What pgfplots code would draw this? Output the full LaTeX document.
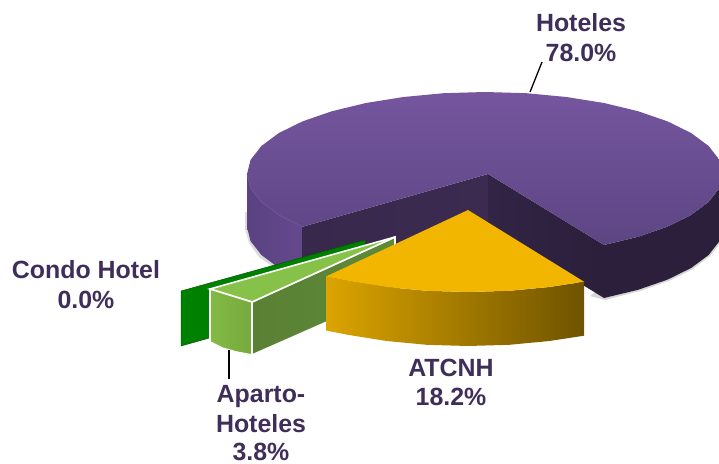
\documentclass[border=0pt]{standalone}
\usepackage{fontspec}
\setmainfont{Liberation Sans}
\usepackage{pgfplots}
\pgfplotsset{compat=1.18}
\definecolor{labelc}{HTML}{3F2D5A}
\definecolor{HotelWallA}{HTML}{5A4281}
\definecolor{HotelWallB}{HTML}{644A8D}
\definecolor{HotelCutA}{HTML}{37284C}
\definecolor{HotelCutB}{HTML}{3B2B50}
\definecolor{HotelCutC}{HTML}{322445}
\definecolor{HotelCutD}{HTML}{2B1F3B}
\definecolor{HotelTopA}{HTML}{75569F}
\definecolor{HotelTopB}{HTML}{5D4583}
\definecolor{HotelRim}{HTML}{6F549B}
\definecolor{CondoFill}{HTML}{008000}
\definecolor{ApartoWallA}{HTML}{5A8034}
\definecolor{ApartoWallB}{HTML}{5E8A38}
\definecolor{ApartoTop}{HTML}{86C24A}
\definecolor{ApartoFrontA}{HTML}{83BA45}
\definecolor{ApartoFrontB}{HTML}{76A93D}
\definecolor{AtcWallA}{HTML}{DCA400}
\definecolor{AtcWallB}{HTML}{AB7E00}
\definecolor{AtcWallC}{HTML}{6E5300}
\definecolor{AtcTop}{HTML}{F3B600}
\newcommand{\lab}[3]{\node[anchor=base,inner sep=0pt,text=labelc,font=\fontsize{25}{29}\selectfont\bfseries] at (axis cs:#1,#2) {#3};}
\begin{document}
\begin{tikzpicture}
\begin{axis}[
scale only axis,
width=719bp,
height=464bp,
xmin=0, xmax=719,
ymin=0, ymax=464,
y dir=reverse,
hide axis,
]
% hide axis leaves the box out of the page size
\path (axis cs:0,0) rectangle (axis cs:719,464);
% soft shadow below the pie
\addplot[draw=none,fill=black!14] coordinates {(245,212) (245,229) (249,243) (259,257) (277,270) (301,282) (320,284) (320,270) (260,215)} --cycle;
\addplot[draw=none,fill=black!16] coordinates {(590,296) (605,300) (640,291) (669,281) (693,269) (710,256) (721,242) (725,229) (719,200)} --cycle;

% Hoteles walls
\addplot[draw=none,left color=HotelWallA,right color=HotelWallB] coordinates {(247,174) (250.6,188.2) (261.4,202) (278.9,215) (302.7,226.7) (304,280) (278.9,268) (261.4,255) (250.6,241.2) (247,227)} --cycle;
\addplot[draw=none,left color=HotelCutA,right color=HotelCutB] coordinates {(302.7,226.7) (488,174) (488,227) (302.7,279.7)} --cycle;
\addplot[draw=none,left color=HotelCutC,right color=HotelCutD] coordinates {(488,174) (604,245) (604,298) (488,227)} --cycle;
\addplot[draw=none,fill=HotelCutD] coordinates {(604,245) (638,236.8) (667.3,226.7) (691.1,215) (708.6,202) (719.4,188.2) (723,174) (723,227) (719.4,241.2) (708.6,255) (691.1,268) (667.3,279.7) (638,289.8) (604,298)} --cycle;
% Hoteles top
\addplot[draw=none,top color=HotelTopA,bottom color=HotelTopB] coordinates {
(604,245) (638,236.8) (667.3,226.7) (691.1,215) (708.6,202) (719.4,188.2) (723,174)
(719.4,159.8) (708.6,146) (691.1,133) (667.3,121.3) (638,111.2) (604,103) (566.4,97) (526.3,93.2) (485,92)
(443.7,93.2) (403.6,97) (366,103) (332,111.2) (302.7,121.3) (278.9,133) (261.4,146) (250.6,159.8) (247,174)
(250.6,188.2) (261.4,202) (278.9,215) (302.7,226.7) (488,174)} --cycle;
\addplot[HotelRim,line width=0.7pt] coordinates {(247,174) (250.6,188.2) (261.4,202) (278.9,215) (302.7,226.7)};

% Condo Hotel
\addplot[draw=green!35!black,line width=0.5pt,fill=CondoFill] coordinates {(181,291) (365,240) (365,294) (181,346)} --cycle;

% Aparto-Hoteles
\addplot[draw=white,line width=1.6pt,left color=ApartoWallA,right color=ApartoWallB] coordinates {(252,302) (395,237) (395,292) (252,355)} --cycle;
\addplot[draw=white,line width=1.6pt,fill=ApartoTop] coordinates {(210,289) (395,237) (252,302)} --cycle;
\addplot[draw=white,line width=1.6pt,left color=ApartoFrontA,right color=ApartoFrontB] coordinates {(210,289) (252,302) (252,355) (236,352) (222,348) (210,342)} --cycle;

% ATCNH
\addplot[draw=none,left color=AtcWallA,middle color=AtcWallB,right color=AtcWallC] coordinates {
(326,276.5) (349,281) (386.6,287) (426.7,290.8) (468,292) (509.3,290.8) (549.4,287) (584,281.7)
(584,335.7) (549.4,341) (509.3,344.8) (468,346) (426.7,344.8) (386.6,341) (349,335) (326,330.5)} --cycle;
\addplot[draw=none,fill=AtcTop] coordinates {(468,210) (584,281.7) (549.4,287) (509.3,290.8) (468,292) (426.7,290.8) (386.6,287) (349,281) (326,276.5)} --cycle;

% leader lines
\addplot[black,line width=1.3pt] coordinates {(542,62) (530,92)};
\addplot[black,line width=1.3pt] coordinates {(229,350) (229,379)};

\lab{581}{32}{Hoteles}
\lab{581}{62}{78.0\%}
\lab{86}{278}{Condo Hotel}
\lab{86}{308}{0.0\%}
\lab{261}{402}{Aparto-}
\lab{261}{432}{Hoteles}
\lab{261}{460.5}{3.8\%}
\lab{451}{376}{ATCNH}
\lab{451}{405}{18.2\%}
\end{axis}
\end{tikzpicture}
\end{document}
